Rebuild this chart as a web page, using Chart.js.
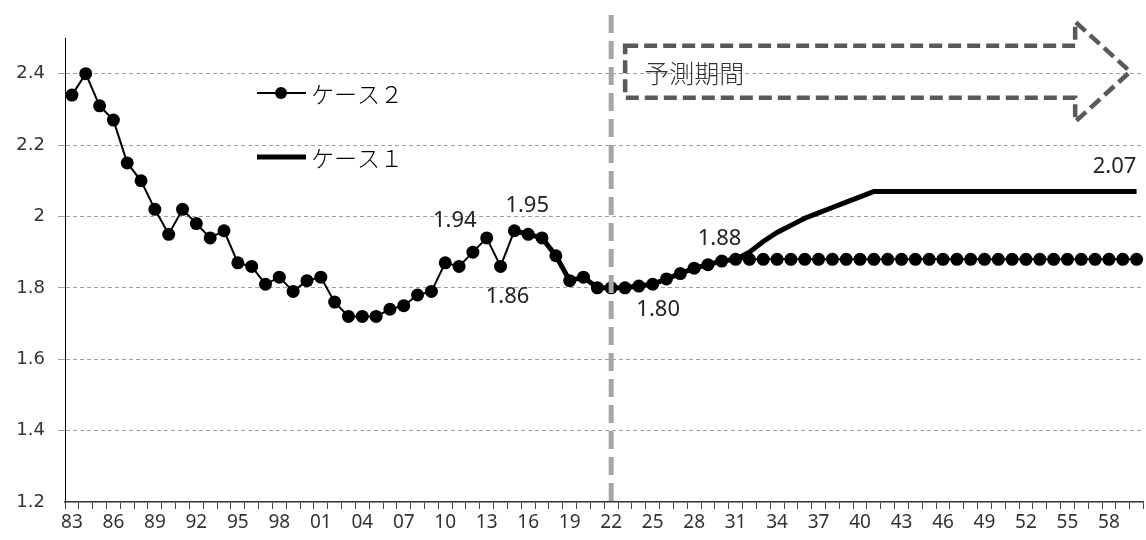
<!DOCTYPE html>
<html>
<head>
  <meta charset="utf-8">
  <title>合計特殊出生率の推移</title>
  <script src="https://cdn.jsdelivr.net/npm/chart.js@4"></script>
  <style>
    body { margin: 0; background: #fff; overflow: hidden; }
    /* plot runs a few px past the right edge, as in the original */
    #wrap { width: 1146px; height: 540px; overflow: hidden; }
    canvas { display: block; }
  </style>
</head>
<body>
  <div id="wrap"><canvas id="chart" width="1150" height="540"></canvas></div>
  <script>
    // years 1983-2060, shown as two digits
    const years = [
      '83','84','85','86','87','88','89','90','91','92',
      '93','94','95','96','97','98','99','00','01','02',
      '03','04','05','06','07','08','09','10','11','12',
      '13','14','15','16','17','18','19','20','21','22',
      '23','24','25','26','27','28','29','30','31','32',
      '33','34','35','36','37','38','39','40','41','42',
      '43','44','45','46','47','48','49','50','51','52',
      '53','54','55','56','57','58','59','60'
    ];

    // ケース２ : actual values, then 1.88 held from 2031
    const case2 = [
      2.34, 2.40, 2.31, 2.27, 2.15, 2.10, 2.02, 1.95, 2.02, 1.98,
      1.94, 1.96, 1.87, 1.86, 1.81, 1.83, 1.79, 1.82, 1.83, 1.76,
      1.72, 1.72, 1.72, 1.74, 1.75, 1.78, 1.79, 1.87, 1.86, 1.90,
      1.94, 1.86, 1.96, 1.95, 1.94, 1.89, 1.82, 1.83, 1.80, 1.80,
      1.80, 1.805, 1.81, 1.825, 1.84, 1.855, 1.865, 1.875, 1.88, 1.88,
      1.88, 1.88, 1.88, 1.88, 1.88, 1.88, 1.88, 1.88, 1.88, 1.88,
      1.88, 1.88, 1.88, 1.88, 1.88, 1.88, 1.88, 1.88, 1.88, 1.88,
      1.88, 1.88, 1.88, 1.88, 1.88, 1.88, 1.88, 1.88
    ];

    // ケース１ : starts 2015, rises to 2.07 by 2041
    const case1 = [
      null, null, null, null, null, null, null, null, null, null,
      null, null, null, null, null, null, null, null, null, null,
      null, null, null, null, null, null, null, null, null, null,
      null, null, 1.96, 1.95, 1.94, 1.89, 1.82, 1.83, 1.80, 1.80,
      1.80, 1.805, 1.81, 1.825, 1.84, 1.855, 1.865, 1.875, 1.88, 1.90,
      1.93, 1.955, 1.975, 1.995, 2.01, 2.025, 2.04, 2.055, 2.07, 2.07,
      2.07, 2.07, 2.07, 2.07, 2.07, 2.07, 2.07, 2.07, 2.07, 2.07,
      2.07, 2.07, 2.07, 2.07, 2.07, 2.07, 2.07, 2.07
    ];

    const yTicks = [1.2, 1.4, 1.6, 1.8, 2.0, 2.2, 2.4];

    // value labels: dataset, point index, offset of label centre from point
    const valueLabels = [
      { ds: 0, i: 30, dx: -32, dy: -17 },
      { ds: 0, i: 33, dx: -1, dy: -29 },
      { ds: 0, i: 31, dx: 7, dy: 30 },
      { ds: 0, i: 39, dx: 47, dy: 22 },
      { ds: 0, i: 48, dx: -16, dy: -21 },
      { ds: 1, i: 77, dx: -22, dy: -25 }
    ];

    const forecastStart = years.indexOf('22');
    const jpFont = '"Noto Sans CJK JP", sans-serif';

    // forecast divider, arrow, legend and value labels
    const decorPlugin = {
      id: 'decor',
      afterDatasetsDraw(chart) {
        const ctx = chart.ctx;
        const xs = chart.scales.x;
        const ys = chart.scales.y;
        const area = chart.chartArea;

        // grey dashed divider at 2022
        const xd = xs.getPixelForValue(forecastStart);
        ctx.save();
        ctx.strokeStyle = '#a6a6a6';
        ctx.lineWidth = 5;
        ctx.setLineDash([18, 8]);
        ctx.beginPath();
        ctx.moveTo(xd, 15);
        ctx.lineTo(xd, area.bottom);
        ctx.stroke();
        ctx.restore();

        // dashed arrow "予測期間"
        const x0 = xd + 14;
        const xb = x0 + 450;
        const xt = x0 + 505;
        const ym = ys.getPixelForValue(2.4) - 2;
        ctx.save();
        ctx.strokeStyle = '#595959';
        ctx.lineWidth = 4.5;
        ctx.setLineDash([13, 6]);
        ctx.lineJoin = 'miter';
        ctx.beginPath();
        ctx.moveTo(x0, ym - 26);
        ctx.lineTo(xb, ym - 26);
        ctx.lineTo(xb, ym - 50);
        ctx.lineTo(xt, ym);
        ctx.lineTo(xb, ym + 50);
        ctx.lineTo(xb, ym + 26);
        ctx.lineTo(x0, ym + 26);
        ctx.closePath();
        ctx.stroke();
        ctx.setLineDash([]);
        ctx.fillStyle = '#333';
        ctx.font = '300 25px ' + jpFont;
        ctx.textAlign = 'left';
        ctx.textBaseline = 'middle';
        ctx.fillText('予測期間', x0 + 19, ym + 2);
        ctx.restore();

        // legend inside the plot
        const legendRows = [93, 157];
        chart.data.datasets.forEach((d, k) => {
          const y = legendRows[k];
          ctx.save();
          ctx.strokeStyle = d.borderColor;
          ctx.lineWidth = d.borderWidth;
          ctx.beginPath();
          ctx.moveTo(257, y);
          ctx.lineTo(306, y);
          ctx.stroke();
          if (d.pointRadius > 0) {
            ctx.fillStyle = d.pointBackgroundColor;
            ctx.beginPath();
            ctx.arc(281, y, 6, 0, Math.PI * 2);
            ctx.fill();
          }
          ctx.fillStyle = '#000';
          ctx.font = '300 23px ' + jpFont;
          ctx.textAlign = 'left';
          ctx.textBaseline = 'middle';
          ctx.fillText(d.label, 311, y + 1);
          ctx.restore();
        });

        // value labels
        ctx.save();
        ctx.fillStyle = '#222';
        ctx.font = '22px "Noto Sans", sans-serif';
        ctx.textAlign = 'center';
        ctx.textBaseline = 'middle';
        valueLabels.forEach(l => {
          const v = chart.data.datasets[l.ds].data[l.i];
          const px = xs.getPixelForValue(l.i);
          const py = ys.getPixelForValue(v);
          ctx.fillText(v.toFixed(2), px + l.dx, py + l.dy);
        });
        ctx.restore();
      }
    };

    new Chart(document.getElementById('chart'), {
      type: 'line',
      data: {
        labels: years,
        datasets: [
          {
            label: 'ケース２',
            data: case2,
            borderColor: '#000',
            borderWidth: 2,
            pointRadius: 6.5,
            pointBackgroundColor: '#000',
            pointBorderWidth: 0,
            tension: 0,
            clip: false
          },
          {
            label: 'ケース１',
            data: case1,
            borderColor: '#000',
            borderWidth: 5,
            pointRadius: 0,
            pointBackgroundColor: '#000',
            tension: 0,
            clip: false
          }
        ]
      },
      options: {
        responsive: false,
        devicePixelRatio: 1,
        animation: false,
        layout: { padding: { top: 38, left: 0, right: 0, bottom: 0 } },
        plugins: {
          legend: { display: false },
          tooltip: { enabled: false }
        },
        scales: {
          x: {
            type: 'category',
            offset: true,
            afterFit: s => { s.height = 38; },
            grid: {
              offset: true,
              drawOnChartArea: false,
              tickLength: 7,
              color: '#444'
            },
            border: { color: '#333', width: 1.5 },
            ticks: {
              autoSkip: false,
              maxRotation: 0,
              padding: 2,
              color: '#333',
              font: { family: '"Noto Sans", sans-serif', size: 19 },
              callback(v, i) { return i % 3 === 0 ? years[i] : ''; }
            }
          },
          y: {
            min: 1.2,
            max: 2.5,
            afterFit: s => { s.width = 65; },
            afterBuildTicks: s => { s.ticks = yTicks.map(v => ({ value: v })); },
            grid: {
              tickLength: 7,
              color: c => (c.tick && c.tick.value === 1.2 ? 'rgba(0,0,0,0)' : '#a0a0a0')
            },
            border: { color: '#000', width: 1, dash: [4, 3] },
            ticks: {
              padding: 13,
              color: '#333',
              font: { family: '"DejaVu Sans", sans-serif', size: 18 },
              callback: v => String(Math.round(v * 10) / 10)
            }
          }
        }
      },
      plugins: [decorPlugin]
    });
  </script>
</body>
</html>
